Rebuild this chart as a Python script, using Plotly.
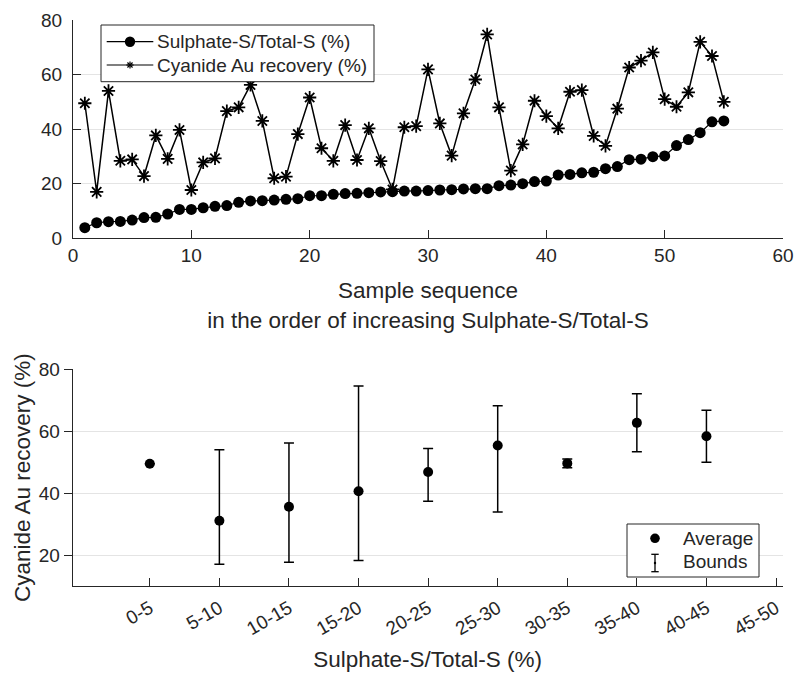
import plotly.graph_objects as go

# ---- data -------------------------------------------------------------
# samples ordered by increasing sulphate-S / total-S
sample_seq = list(range(1, 56))
sulphate_pct = [
    3.9, 5.7, 6.1, 6.2, 6.7, 7.6, 7.7, 8.9, 10.6, 10.6,
    11.2, 11.7, 12.0, 13.2, 13.7, 13.8, 14.0, 14.3, 14.5, 15.6,
    15.6, 16.1, 16.4, 16.5, 16.7, 17.0, 17.1, 17.3, 17.3, 17.5,
    17.7, 17.8, 18.1, 18.2, 18.2, 19.3, 19.5, 20.0, 20.8, 21.0,
    23.2, 23.4, 24.0, 24.2, 25.5, 26.3, 28.8, 29.0, 29.9, 30.2,
    34.0, 36.2, 38.7, 42.7, 43.0,
]
recovery_pct = [
    49.5, 17.0, 54.0, 28.4, 28.9, 22.8, 37.7, 29.1, 39.7, 17.7,
    27.8, 29.3, 46.6, 48.0, 56.2, 43.0, 22.0, 22.6, 38.2, 51.6,
    33.0, 28.4, 41.5, 28.7, 40.3, 28.3, 17.9, 40.7, 41.1, 61.9,
    42.1, 30.3, 45.8, 58.2, 74.7, 48.0, 24.8, 34.4, 50.4, 44.8,
    40.3, 53.7, 54.3, 37.5, 33.9, 47.5, 62.6, 65.1, 68.1, 51.0,
    48.2, 53.5, 72.0, 66.8, 50.0,
]

# recovery grouped by sulphate-S / total-S class
bin_labels = ["0-5", "5-10", "10-15", "15-20", "20-25",
              "25-30", "30-35", "35-40", "40-45", "45-50"]
bin_avg = [49.5, 31.1, 35.6, 40.6, 46.8, 55.4, 49.6, 62.7, 58.4, None]
bin_low = [None, 17.0, 17.7, 18.2, 37.4, 33.9, 48.2, 53.4, 50.0, None]
bin_high = [None, 54.0, 56.2, 74.6, 54.4, 68.2, 51.0, 72.1, 66.8, None]

# ---- figure -----------------------------------------------------------
W, H = 795, 676
FONT = "Liberation Sans, Arial, Helvetica, sans-serif"
INK = "#262626"
GRID = "#e4e4e4"


def fx(p):
    return p / W


def fy(p):
    return 1 - p / H


bin_pos = list(range(1, len(bin_labels) + 1))
err_up = [None if (h is None or a is None) else h - a for h, a in zip(bin_high, bin_avg)]
err_dn = [None if (l is None or a is None) else a - l for l, a in zip(bin_low, bin_avg)]

fig = go.Figure()

fig.add_trace(go.Scatter(
    x=sample_seq, y=sulphate_pct, mode="lines+markers",
    name="Sulphate-S/Total-S (%)",
    line=dict(color="black", width=1.2),
    marker=dict(symbol="circle", size=11, color="black"),
    xaxis="x", yaxis="y", showlegend=False,
))
fig.add_trace(go.Scatter(
    x=sample_seq, y=recovery_pct, mode="lines+markers",
    name="Cyanide Au recovery (%)",
    line=dict(color="black", width=1.5),
    marker=dict(symbol="asterisk-open", size=11,
                line=dict(color="black", width=1.8)),
    xaxis="x", yaxis="y", showlegend=False,
))
fig.add_trace(go.Scatter(
    x=bin_pos, y=bin_avg, mode="markers", name="Average",
    marker=dict(symbol="circle", size=10, color="black"),
    error_y=dict(type="data", symmetric=False, array=err_up,
                 arrayminus=err_dn, color="black", thickness=1.5, width=5),
    xaxis="x2", yaxis="y2", showlegend=False,
))

axis_common = dict(
    showline=True, linecolor=INK, linewidth=1, zeroline=False,
    tickcolor=INK, ticklen=8, tickwidth=1, automargin=False,
    tickfont=dict(family=FONT, size=19, color=INK),
)

fig.update_layout(
    width=W, height=H, autosize=False,
    margin=dict(l=0, r=0, t=0, b=0),
    paper_bgcolor="white", plot_bgcolor="white",
    font=dict(family=FONT, color=INK),
    xaxis=dict(
        domain=[fx(73), fx(783)], range=[0, 60],
        tickvals=[0, 10, 20, 30, 40, 50, 60], ticks="inside",
        showgrid=False, anchor="y",
        title=dict(text="Sample sequence<br>in the order of increasing Sulphate-S/Total-S",
                   font=dict(family=FONT, size=22.5, color=INK), standoff=17),
        **axis_common,
    ),
    yaxis=dict(
        domain=[fy(238.3), fy(20)], range=[0, 80],
        tickvals=[0, 20, 40, 60, 80], ticks="inside",
        showgrid=True, gridcolor=GRID, gridwidth=1, anchor="x",
        ticklabelstandoff=6,
        **axis_common,
    ),
    xaxis2=dict(
        domain=[fx(72.7), fx(782.7)], range=[-0.108, 10.096],
        tickvals=bin_pos, ticktext=bin_labels, tickangle=-30,
        ticks="inside", showgrid=False, anchor="y2",
        ticklabelstandoff=3,
        title=dict(text="Sulphate-S/Total-S (%)",
                   font=dict(family=FONT, size=22.5, color=INK), standoff=12),
        **axis_common,
    ),
    yaxis2=dict(
        domain=[fy(586), fy(369.3)], range=[10, 80],
        tickvals=[20, 40, 60, 80], ticks="outside",
        showgrid=True, gridcolor=GRID, gridwidth=1, anchor="x2",
        title=dict(text="Cyanide Au recovery (%)",
                   font=dict(family=FONT, size=22.5, color=INK), standoff=1),
        **axis_common,
    ),
)

# ---- legends ----------------------------------------------------------
shapes = []
annotations = []


def box(x0, y0, x1, y1):
    shapes.append(dict(type="rect", xref="paper", yref="paper",
                       x0=fx(x0), x1=fx(x1), y0=fy(y1), y1=fy(y0),
                       fillcolor="white", line=dict(color=INK, width=1),
                       layer="above"))


def seg(x0, y0, x1, y1, w=1.2):
    shapes.append(dict(type="line", xref="paper", yref="paper",
                       x0=fx(x0), x1=fx(x1), y0=fy(y0), y1=fy(y1),
                       line=dict(color="black", width=w), layer="above"))


def dot(cx, cy, r):
    shapes.append(dict(type="circle", xref="paper", yref="paper",
                       x0=fx(cx - r), x1=fx(cx + r), y0=fy(cy + r), y1=fy(cy - r),
                       fillcolor="black", line=dict(color="black", width=0),
                       layer="above"))


def label(x, y, text):
    annotations.append(dict(xref="paper", yref="paper", x=fx(x), y=fy(y),
                            text=text, showarrow=False, xanchor="left",
                            yanchor="middle",
                            font=dict(family=FONT, size=19, color=INK)))


# upper panel legend
box(101, 25, 374, 81.7)
seg(106.7, 41.7, 153.3, 41.7)
dot(130, 41.7, 5.2)
label(155, 41.7, "Sulphate-S/Total-S (%)")
seg(106.7, 65, 153.3, 65)
r = 3.6
seg(130 - r, 65, 130 + r, 65)
seg(130, 65 - r, 130, 65 + r)
seg(130 - r * 0.7071, 65 - r * 0.7071, 130 + r * 0.7071, 65 + r * 0.7071)
seg(130 - r * 0.7071, 65 + r * 0.7071, 130 + r * 0.7071, 65 - r * 0.7071)
label(155, 65, "Cyanide Au recovery (%)")

# lower panel legend
box(627, 524, 759, 577)
dot(655, 538.3, 4.8)
label(681, 538.3, "Average")
seg(655, 554.3, 655, 571.7, 1.3)
seg(651.3, 554.3, 658.7, 554.3, 1.3)
seg(651.3, 571.7, 658.7, 571.7, 1.3)
dot(655, 563, 1.2)
label(681, 561.7, "Bounds")

fig.update_layout(shapes=shapes, annotations=annotations)

fig.write_html("out.html")
